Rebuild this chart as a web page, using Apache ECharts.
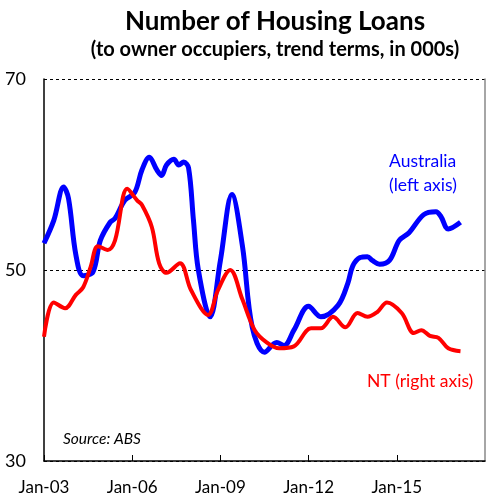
<!DOCTYPE html>
<html>
<head>
<meta charset="utf-8">
<script src="https://cdn.jsdelivr.net/npm/echarts@6/dist/echarts.min.js"></script>
<style>
  html, body { margin: 0; padding: 0; background: #fff; }
  #chart { width: 497px; height: 498px; }
</style>
</head>
<body>
<div id="chart"></div>
<script>
// months counted from Jan-03
const auMonths = [0, 4, 8, 10, 13, 16, 20, 23, 27, 29, 33, 37, 40, 43, 46, 48, 50, 53, 55, 57, 59, 61, 63, 67.8, 72, 76.7, 81, 85, 90, 95, 98, 102, 108, 113, 120, 124, 126, 129, 132, 134, 137, 141, 145, 149, 155, 160, 162, 165, 170];
const auValues = [52.8, 55.2, 58.7, 57.5, 51.6, 49.4, 49.8, 53.1, 55.0, 55.4, 57.3, 58.1, 60.5, 61.8, 60.5, 59.9, 61.0, 61.6, 61.0, 61.3, 60.7, 55.2, 50.0, 45.1, 51.0, 57.9, 52.5, 44.0, 41.4, 42.4, 42.1, 43.7, 46.2, 45.1, 46.3, 48.6, 50.4, 51.3, 51.4, 51.0, 50.6, 51.0, 53.1, 53.9, 55.8, 56.1, 55.6, 54.3, 55.0];

const ntMonths = [0, 4, 8.6, 13, 16, 19, 22, 26, 29, 34, 38, 40, 44, 47, 50, 55.5, 60, 67, 71, 76, 81, 86, 91, 96, 102, 109, 113, 118, 123, 128, 132, 136, 140, 146, 151, 154, 157.5, 161, 165, 170];
const ntValues = [43.0, 46.6, 46.0, 47.4, 48.2, 50.3, 52.5, 52.1, 53.1, 58.5, 57.3, 56.8, 54.5, 50.7, 49.7, 50.7, 47.9, 45.3, 47.9, 50.0, 46.9, 43.7, 42.4, 41.8, 42.0, 43.9, 43.9, 45.1, 44.0, 45.5, 45.1, 45.6, 46.6, 45.5, 43.4, 43.7, 43.1, 42.9, 41.8, 41.5];

const yTicks = [30, 50, 70];

const pair = (xs, ys) => xs.map((x, i) => [x, ys[i]]);
const fontFam = 'Lato, "Open Sans", sans-serif';

const chart = echarts.init(document.getElementById('chart'));
chart.setOption({
  animation: false,
  title: [
    {
      text: 'Number of Housing Loans',
      left: 270, top: 4, textAlign: 'center',
      textStyle: { fontFamily: fontFam, fontSize: 26, fontWeight: 'bold', color: '#000' }
    },
    {
      text: '(to owner occupiers, trend terms, in 000s)',
      left: 270, top: 35, textAlign: 'center',
      textStyle: { fontFamily: fontFam, fontSize: 20, fontWeight: 'bold', color: '#000' }
    }
  ],
  grid: { left: 44, right: 12, top: 79, bottom: 37 },
  xAxis: {
    type: 'value', min: 0, max: 180, interval: 36,
    axisLine: { lineStyle: { color: '#000', width: 1.5 } },
    axisTick: { inside: true, length: 6, lineStyle: { color: '#000' } },
    splitLine: { show: false },
    axisLabel: {
      margin: 18, color: '#000', fontFamily: fontFam, fontSize: 17,
      showMaxLabel: false,
      formatter: v => 'Jan-' + String(3 + v / 12).padStart(2, '0')
    }
  },
  yAxis: [
    {
      type: 'value', min: 30, max: 70, interval: 20,
      axisLine: { show: true, lineStyle: { color: '#000', width: 1.5 } },
      axisTick: { show: false },
      axisLabel: {
        color: '#000', fontFamily: fontFam, fontSize: 18, margin: 18,
        formatter: v => yTicks.includes(v) ? String(v) : ''
      },
      splitLine: { show: true, lineStyle: { color: '#000', type: [3, 3], width: 1 } }
    },
    {
      type: 'value', min: 30, max: 70, interval: 20, position: 'right',
      axisLine: { show: true, lineStyle: { color: '#888', width: 1.5 } },
      axisTick: { show: false },
      axisLabel: { show: false },
      splitLine: { show: false }
    }
  ],
  series: [
    {
      name: 'Australia', type: 'line', yAxisIndex: 0,
      data: pair(auMonths, auValues),
      smooth: 0.35, showSymbol: false,
      lineStyle: { color: '#0000ff', width: 5 }
    },
    {
      name: 'NT', type: 'line', yAxisIndex: 1,
      data: pair(ntMonths, ntValues),
      smooth: 0.35, showSymbol: false,
      lineStyle: { color: '#ff0000', width: 4 }
    }
  ],
  graphic: [
    {
      type: 'text', left: 389, top: 149,
      style: { text: 'Australia\n(left axis)', fill: '#0000ff', font: '17.5px ' + fontFam, lineHeight: 24 }
    },
    {
      type: 'text', left: 367, top: 372,
      style: { text: 'NT (right axis)', fill: '#ff0000', font: '17.5px ' + fontFam }
    },
    {
      type: 'text', left: 63, top: 431,
      style: { text: 'Source: ABS', fill: '#000', font: 'italic 15.5px ' + fontFam }
    }
  ]
});
</script>
</body>
</html>
